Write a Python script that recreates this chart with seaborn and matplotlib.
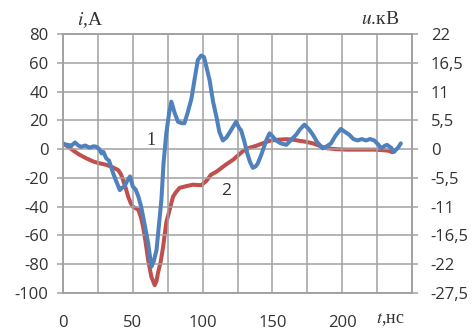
import matplotlib
matplotlib.use("Agg")
import matplotlib.pyplot as plt
import seaborn as sns
import pandas as pd

sns.set_style("white")
plt.rcParams["font.family"] = ["Open Sans", "DejaVu Sans"]
plt.rcParams["mathtext.fontset"] = "stix"
plt.rcParams["axes.unicode_minus"] = False

# current, A (curve 1, left axis)
t_cur = [0, 3, 6, 8.6, 11, 13, 16, 19, 22, 24, 26, 27.6, 29, 31, 33, 36, 38, 40.7,
         42, 44, 46, 48, 50, 52, 54, 56, 57.4, 59, 61, 63.3, 65, 67, 69, 70.5, 72,
         74, 76, 77.6, 80, 82.4, 85, 87, 89.5, 92, 94, 96.6, 99, 101, 103, 105,
         107.5, 110, 112, 114.5, 117, 119, 121.5, 124, 126, 127.6, 130, 132, 134,
         136, 138, 139.5, 142, 144, 146, 148, 150, 152.6, 156, 160, 163, 167, 170,
         173, 176, 179, 182, 186, 189, 192, 195, 199, 202, 205, 208, 211, 214, 217,
         220, 223, 226, 228, 230, 232, 235, 237, 240, 242]
current = [3.5, 3, 2.5, 4.6, 2.5, 1.6, 2.5, 1, 2, 1.6, 0, -3, -2, -6.5, -8, -17, -22, -28.5,
           -27, -26, -22, -19, -26, -28, -33, -40, -47, -55, -65.5, -81.7, -78, -70, -50, -35, -10,
           11, 25, 33, 25, 19, 18, 18, 26, 35, 47, 62, 65, 64, 56, 48,
           33, 22, 12, 6, 8, 11, 15, 19, 15, 13, 5, -3, -9,
           -13, -12, -10, -4, 1.6, 7, 11, 9, 6, 4, 3, 6, 10, 14,
           17, 14, 10, 5, 0.5, 2, 4, 9, 14, 12, 10, 7, 6, 7, 6,
           7, 6, 3, 0.5, 2, 3, 1, -2, 1, 4]

# voltage, kV (curve 2, right axis)
t_volt = [0, 4, 8, 12, 17, 22, 26, 31, 35, 39.5, 41.5, 43, 45, 46.7, 48.5, 50, 52, 54,
          56, 57.4, 59, 61, 63.3, 65.7, 67, 68, 70, 71.7, 74, 76.4, 78.8, 81, 83.6,
          88, 93, 99, 102.6, 106, 110, 117, 122, 128.8, 134, 138, 142, 148, 154,
          160, 165, 169, 174, 179, 184, 188, 195, 203, 210, 217, 223, 229, 233, 236]
voltage = [1.1, 0.4, -0.4, -1.1, -1.8, -2.4, -2.7, -3.0, -3.4, -4.0, -4.8, -5.9, -7.5, -9.1,
           -10.3, -11.0, -11.3, -11.6, -13.2, -14.9, -17.5, -21.2, -24.4, -26.0, -25.2, -23.7,
           -21.5, -18.7, -14.0, -11.6, -9.1, -8.2, -7.4, -7.1, -6.8, -6.9, -6.1, -4.9, -4.3,
           -2.9, -2.0, -0.4, 0.3, 0.6, 1.0, 1.6, 1.8, 1.9, 1.8, 1.6, 1.4, 1.1, 0.6, 0.2, 0.0,
           -0.1, -0.1, -0.1, -0.1, -0.2, -0.3, -0.6]

x_ticks = [0, 25, 50, 75, 100, 125, 150, 175, 200, 225, 250]
x_labels = ["0", "", "50", "", "100", "", "150", "", "200", "", ""]
left_ticks = [-100, -80, -60, -40, -20, 0, 20, 40, 60, 80]
right_ticks = [-27.5, -22, -16.5, -11, -5.5, 0, 5.5, 11, 16.5, 22]
right_labels = ["-27,5", "-22", "-16,5", "-11", "-5,5", "0", "5,5", "11", "16,5", "22"]

df_i = pd.DataFrame({"t": t_cur, "i": current})
df_u = pd.DataFrame({"t": t_volt, "u": voltage})

blue = "#4f81bd"
red = "#c0504d"
grid = "#a0a0a0"
txt = "#333333"

fig = plt.figure(figsize=(4.76, 3.32), dpi=100)
ax = fig.add_axes([63 / 476, 1 - 293 / 332, (412 - 63) / 476, (293 - 34) / 332])
ax2 = ax.twinx()

sns.lineplot(data=df_u, x="t", y="u", ax=ax2, color=red, linewidth=2.9, sort=False)
sns.lineplot(data=df_i, x="t", y="i", ax=ax, color=blue, linewidth=2.9, sort=False)
# keep blue curve drawn above red
ax.set_zorder(ax2.get_zorder() + 1)
ax.patch.set_visible(False)

ax.set_xlim(0, 250)
ax.set_ylim(-100, 80)
ax2.set_ylim(-27.5, 22)
ax.set_xticks(x_ticks)
ax.set_xticklabels(x_labels)
ax.set_yticks(left_ticks)
ax2.set_yticks(right_ticks)
ax2.set_yticklabels(right_labels)
ax.set_xlabel("")
ax.set_ylabel("")
ax2.set_ylabel("")

ax.grid(True, color=grid, linewidth=1.1)
ax.tick_params(axis="x", length=0, pad=16, labelsize=12, labelcolor=txt)
ax.tick_params(axis="y", length=4.5, width=1.1, color=grid, pad=6, labelsize=12, labelcolor=txt)
ax2.tick_params(axis="y", length=4.5, width=1.1, color=grid, pad=9, labelsize=12, labelcolor=txt)
for a in (ax, ax2):
    for s in a.spines.values():
        s.set_color(grid)
        s.set_linewidth(1.1)

serif = ["Liberation Serif", "DejaVu Serif"]
fig.text(77 / 476, 1 - 20 / 332, r"$i$,A", family=serif, fontsize=14, color=txt, va="center")
fig.text(361 / 476, 1 - 19 / 332, r"$u$.кВ", family=serif, fontsize=14, color=txt, va="center")
fig.text(376 / 476, 1 - 320 / 332, r"$t$,нс", family=serif, fontsize=13, color=txt, va="center")
ax.text(63, 6, "1", family=serif, fontsize=13, color=txt, ha="center", va="center")
ax.text(117, -29, "2", fontsize=12.5, color=txt, ha="center", va="center")

fig.savefig("out.png", dpi=100)
